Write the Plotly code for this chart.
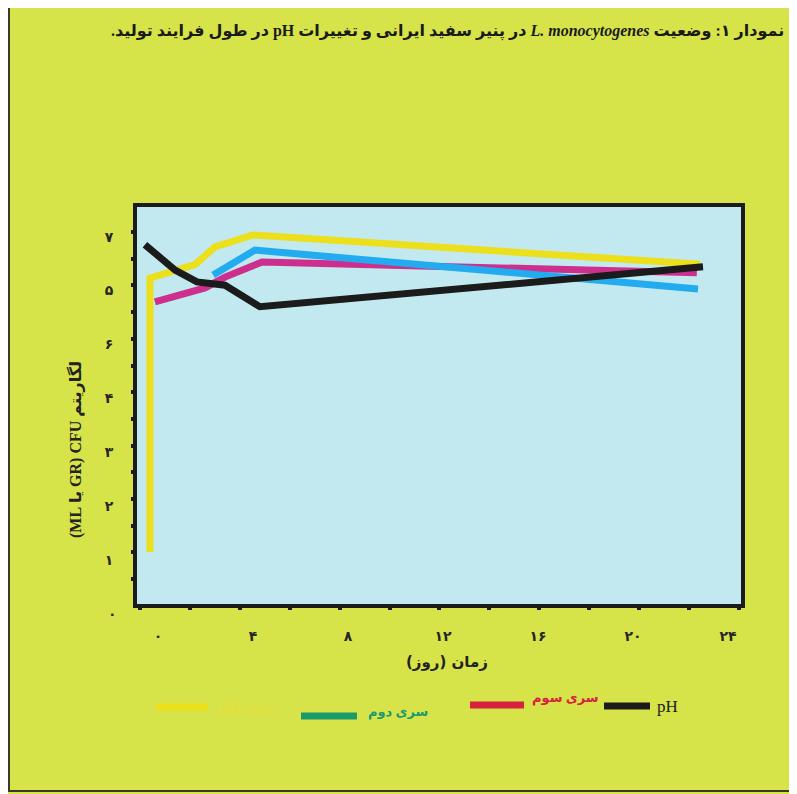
import plotly.graph_objects as go

# ---------------- data ----------------
days_s1 = [-0.34, -0.34, 1.56, 2.40, 4.00, 22.82]
cfu_s1 = [1.15, 6.23, 6.48, 6.81, 7.03, 6.49]

days_s2 = [2.32, 4.08, 22.74]
cfu_s2 = [6.29, 6.75, 6.03]

days_s3 = [-0.13, 1.98, 2.82, 4.38, 22.69]
cfu_s3 = [5.79, 6.05, 6.25, 6.53, 6.33]

days_ph = [-0.55, 0.72, 1.64, 2.82, 4.29, 22.95]
ph_vals = [6.85, 6.38, 6.16, 6.10, 5.70, 6.44]

x_tickvals = [0, 4, 8, 12, 16, 20, 24]
x_ticktext = ["۰", "۴", "۸", "۱۲", "۱۶", "۲۰", "۲۴"]
y_tickvals = [1, 2, 3, 4, 5, 6, 7]
y_ticktext = ["۱", "۲", "۳", "۴", "۶", "۵", "۷"]
y_zero_label = "۰"

series_names = ["سری اول", "سری دوم", "سری سوم", "pH"]
title_text = "نمودار ۱: وضعیت <i>L. monocytogenes</i> در پنیر سفید ایرانی و تغییرات pH در طول فرایند تولید."
x_title = "زمان (روز)"
y_title = "لگاریتم CFU (GR یا ML)"

# ---------------- styling ----------------
OFF = 8                      # page body margin in the browser
W, H = 797 - OFF, 794 - OFF
L, R, T, B = 137, 741, 207, 604  # plot area in screen pixels
PAGE_BG = "#d6e449"
PLOT_BG = "#c2e9ef"
C_YEL = "#ecdf1c"
C_CYAN = "#22acef"
C_MAG = "#cc2f8e"
C_BLK = "#1b1b1b"
LEG_GREEN = "#1b9a6c"
LEG_RED = "#d6213f"
LEG_YEL = "#e4df3a"
FONT = "Liberation Serif, DejaVu Sans, sans-serif"
RLE, PDF = "\u202B", "\u202C"


def px(xp):
    return (xp - L) / (R - L)


def py(yp):
    return (B - yp) / (B - T)


def rtl_bold(s):
    return "<b>" + RLE + s + PDF + "</b>"


fig = go.Figure()
lw = 7
fig.add_trace(go.Scatter(x=days_s1, y=cfu_s1, mode="lines", line=dict(color=C_YEL, width=lw), name=series_names[0]))
fig.add_trace(go.Scatter(x=days_s3, y=cfu_s3, mode="lines", line=dict(color=C_MAG, width=lw), name=series_names[2]))
fig.add_trace(go.Scatter(x=days_s2, y=cfu_s2, mode="lines", line=dict(color=C_CYAN, width=lw), name=series_names[1]))
fig.add_trace(go.Scatter(x=days_ph, y=ph_vals, mode="lines", line=dict(color=C_BLK, width=lw), name=series_names[3]))

xr = [-0.884, 24.55]
yr = [0.186, 7.55]
tickfont = dict(family="DejaVu Sans", size=14, color="#262626", weight="bold")

fig.update_layout(
    width=W, height=H,
    margin=dict(l=L - OFF, r=797 - R, t=T - OFF, b=794 - B),
    paper_bgcolor=PAGE_BG,
    plot_bgcolor=PLOT_BG,
    showlegend=False,
    font=dict(family=FONT, color="#222"),
    xaxis=dict(range=xr, tickvals=x_tickvals, ticktext=x_ticktext, ticks="",
               showgrid=False, zeroline=False, showline=True, linecolor=C_BLK, linewidth=4, mirror=True,
               tickfont=tickfont, ticklabelstandoff=16),
    yaxis=dict(range=yr, tickvals=y_tickvals, ticktext=y_ticktext, ticks="",
               showgrid=False, zeroline=False, showline=True, linecolor=C_BLK, linewidth=4, mirror=True,
               tickfont=tickfont, ticklabelstandoff=17),
    xaxis2=dict(range=xr, overlaying="x", tick0=1.35, dtick=2.1, ticks="outside", ticklen=5, tickwidth=4,
                tickcolor=C_BLK, showticklabels=False, showgrid=False, zeroline=False, showline=False,
                side="bottom"),
    yaxis2=dict(range=yr, overlaying="y", tick0=0.65, dtick=0.495, ticks="outside", ticklen=5, tickwidth=4,
                tickcolor=C_BLK, showticklabels=False, showgrid=False, zeroline=False, showline=False,
                side="left"),
)
# invisible trace that activates the tick-mark axes
fig.add_trace(go.Scatter(x=[None], y=[None], xaxis="x2", yaxis="y2", showlegend=False, hoverinfo="skip"))

shapes = []
# page border
shapes.append(dict(type="rect", xref="paper", yref="paper", x0=px(9), x1=px(795), y0=py(791), y1=py(7),
                   line=dict(color="#3a3a2a", width=2), layer="below"))

annotations = []
# title
annotations.append(dict(text=rtl_bold(title_text), xref="paper", yref="paper",
                        x=px(786), y=py(31), xanchor="right", yanchor="middle", showarrow=False,
                        font=dict(family=FONT, size=16, color="#1a1a1a")))
# axis titles
annotations.append(dict(text=rtl_bold(x_title), xref="paper", yref="paper",
                        x=px(447), y=py(662), xanchor="center", yanchor="middle", showarrow=False,
                        font=dict(family="DejaVu Sans", size=15, color="#222")))
annotations.append(dict(text=rtl_bold(y_title), xref="paper", yref="paper",
                        x=px(75), y=py(450), xanchor="center", yanchor="middle", showarrow=False,
                        textangle=-90, font=dict(family=FONT, size=16, color="#222")))
# zero tick label on y (below the plotted range)
annotations.append(dict(text=y_zero_label, xref="paper", yref="paper", x=px(112), y=py(614),
                        xanchor="center", yanchor="middle", showarrow=False, font=tickfont))

# custom legend
legend_items = [
    (series_names[0], C_YEL, LEG_YEL, 156, 208, 707, 214, 706, 13),
    (series_names[1], LEG_GREEN, LEG_GREEN, 301, 357, 716, 366, 712, 13),
    (series_names[2], LEG_RED, LEG_RED, 470, 524, 705, 530, 698, 13),
    (series_names[3], C_BLK, C_BLK, 604, 650, 706, 655, 706, 17),
]
for name, bar_c, txt_c, bx0, bx1, by, tx, ty, fs in legend_items:
    shapes.append(dict(type="line", xref="paper", yref="paper", x0=px(bx0), x1=px(bx1), y0=py(by), y1=py(by),
                       line=dict(color=bar_c, width=7)))
    annotations.append(dict(text="<b>" + name + "</b>" if name != "pH" else name, xref="paper", yref="paper",
                            x=px(tx), y=py(ty), xanchor="left", yanchor="middle", showarrow=False,
                            font=dict(family=FONT, size=fs, color=txt_c)))

fig.update_layout(shapes=shapes, annotations=annotations)
fig.write_html("out.html")
